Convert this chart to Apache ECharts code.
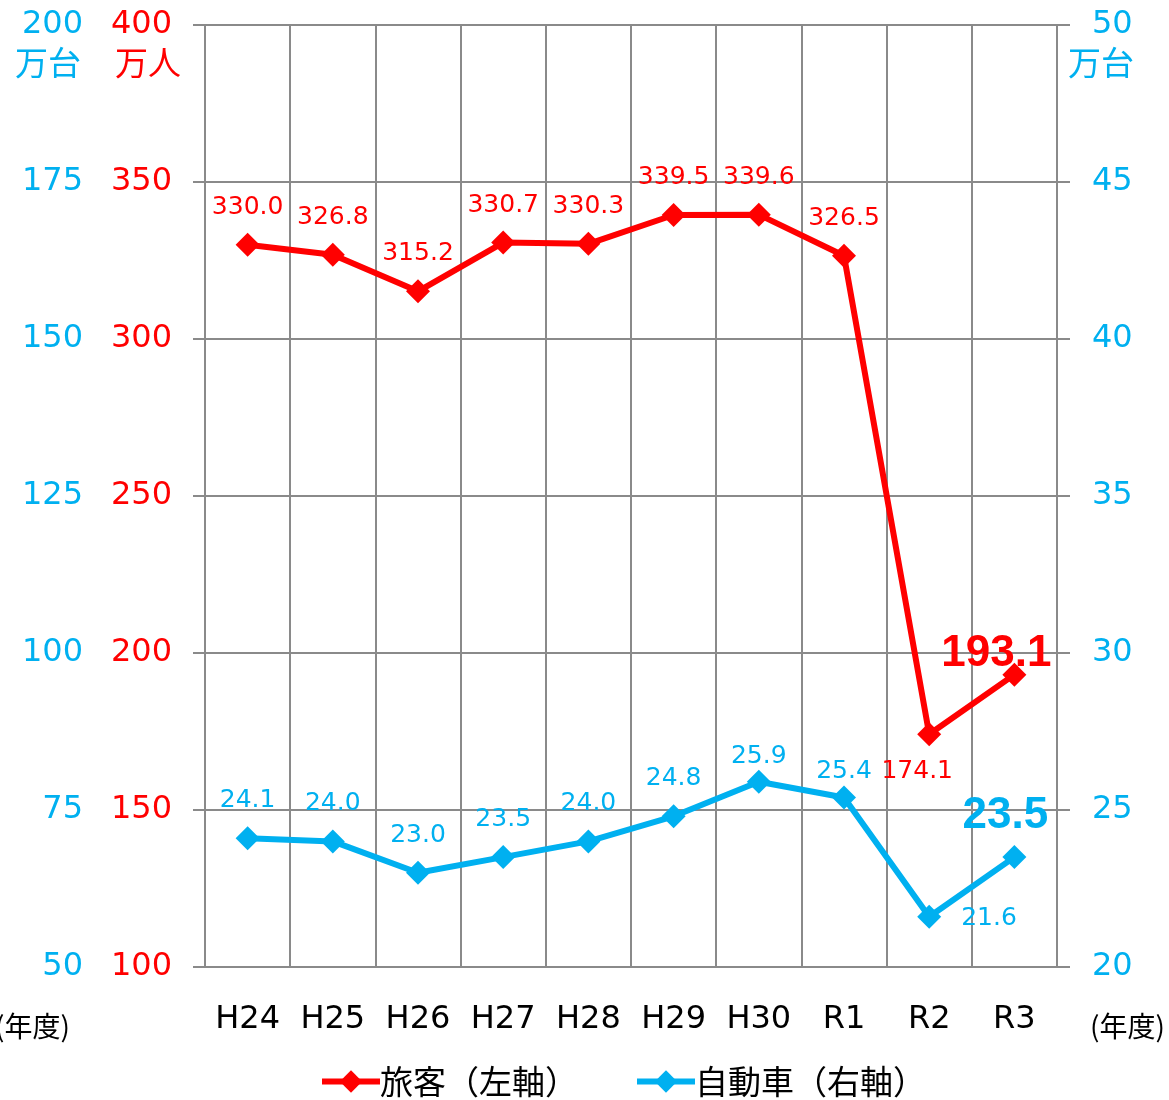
<!DOCTYPE html>
<html><head><meta charset="utf-8">
<script src="https://cdn.jsdelivr.net/npm/echarts@6/dist/echarts.min.js"></script>
<style>html,body{margin:0;padding:0;background:#fff}#c{width:1169px;height:1100px}</style>
</head><body><div id="c"></div>
<script>
const categories = ['H24','H25','H26','H27','H28','H29','H30','R1','R2','R3'];
const passengers = [330.0, 326.8, 315.2, 330.7, 330.3, 339.5, 339.6, 326.5, 174.1, 193.1];
const vehicles = [24.1, 24.0, 23.0, 23.5, 24.0, 24.8, 25.9, 25.4, 21.6, 23.5];
const seriesNames = ['旅客（左軸）', '自動車（右軸）'];

const RED = '#FF0000', BLUE = '#00B0F0', GRID = '#8a8a8a';
const NUM = "'DejaVu Sans','Noto Sans CJK JP',sans-serif";
const JP = "'Noto Sans CJK JP','DejaVu Sans',sans-serif";
const BOLD = "'Liberation Sans',Arial,sans-serif";

const redData = passengers.map((v, i) => {
  const d = { value: v };
  if (i === 8) d.label = { position: 'bottom', distance: 13, offset: [-12, 0] };
  if (i === 9) d.label = { position: 'top', distance: 2, offset: [-18, 15], fontSize: 44, fontWeight: 'bold', fontFamily: BOLD };
  return d;
});
const blueData = vehicles.map((v, i) => {
  const d = { value: v };
  if (i === 6 || i === 7) d.label = { distance: 1 };
  if (i === 8) d.label = { position: 'right', distance: 20, offset: [0, 2] };
  if (i === 9) d.label = { position: 'top', distance: 2, offset: [-9, -5], fontSize: 44, fontWeight: 'bold', fontFamily: BOLD };
  return d;
});

const chart = echarts.init(document.getElementById('c'), null, { renderer: 'canvas' });
chart.setOption({
  animation: false,
  backgroundColor: '#fff',
  grid: { left: 205, right: 112, top: 25, bottom: 133, containLabel: false },
  xAxis: {
    type: 'category', data: categories, boundaryGap: true,
    axisLine: { show: true, lineStyle: { color: GRID, width: 2 } },
    axisTick: { show: false },
    splitLine: { show: true, lineStyle: { color: GRID, width: 2 } },
    axisLabel: { color: '#000', fontSize: 32, fontFamily: NUM, margin: 37, interval: 0 }
  },
  yAxis: [
    { type: 'value', min: 100, max: 400, interval: 50, position: 'left',
      axisLine: { show: true, lineStyle: { color: GRID, width: 2 } },
      axisTick: { show: true, length: 12, lineStyle: { color: GRID, width: 2 } },
      splitLine: { show: true, lineStyle: { color: GRID, width: 2 } },
      axisLabel: { color: RED, fontSize: 32, fontFamily: NUM, margin: 33 } },
    { type: 'value', min: 20, max: 50, interval: 5, position: 'right',
      axisLine: { show: true, lineStyle: { color: GRID, width: 2 } },
      axisTick: { show: true, length: 13, lineStyle: { color: GRID, width: 2 } },
      splitLine: { show: false },
      axisLabel: { color: BLUE, fontSize: 32, fontFamily: NUM, margin: 35 } },
    { type: 'value', min: 50, max: 200, interval: 25, position: 'left', offset: 89,
      axisLine: { show: false }, axisTick: { show: false }, splitLine: { show: false },
      axisLabel: { color: BLUE, fontSize: 32, fontFamily: NUM, margin: 33 } }
  ],
  legend: {
    bottom: -3, left: 314, itemWidth: 58, itemHeight: 28, itemGap: 56,
    lineStyle: { width: 6 },
    textStyle: { fontSize: 33, fontFamily: JP, color: '#000', padding: [0, 0, 0, -5] },
    data: seriesNames
  },
  series: [
    { name: seriesNames[0], type: 'line', yAxisIndex: 0, data: redData,
      symbol: 'diamond', symbolSize: 24, itemStyle: { color: RED },
      lineStyle: { color: RED, width: 6 },
      label: { show: true, position: 'top', distance: 13, color: RED, fontSize: 25, fontFamily: NUM,
        formatter: p => p.value.toFixed(1) } },
    { name: seriesNames[1], type: 'line', yAxisIndex: 1, data: blueData,
      symbol: 'diamond', symbolSize: 24, itemStyle: { color: BLUE },
      lineStyle: { color: BLUE, width: 6 },
      label: { show: true, position: 'top', distance: 13, color: BLUE, fontSize: 25, fontFamily: NUM,
        formatter: p => p.value.toFixed(1) } }
  ],
  graphic: [
    { type: 'text', left: 15, top: 46, style: { text: '万台', fill: BLUE, font: '33px ' + JP } },
    { type: 'text', left: 115, top: 46, style: { text: '万人', fill: RED, font: '33px ' + JP } },
    { type: 'text', left: 1068, top: 46, style: { text: '万台', fill: BLUE, font: '33px ' + JP } },
    { type: 'text', right: 1099, top: 1012, style: { text: '(年度)', fill: '#000', font: '28px ' + JP } },
    { type: 'text', right: 4, top: 1012, style: { text: '(年度)', fill: '#000', font: '28px ' + JP } }
  ]
});
</script></body></html>
